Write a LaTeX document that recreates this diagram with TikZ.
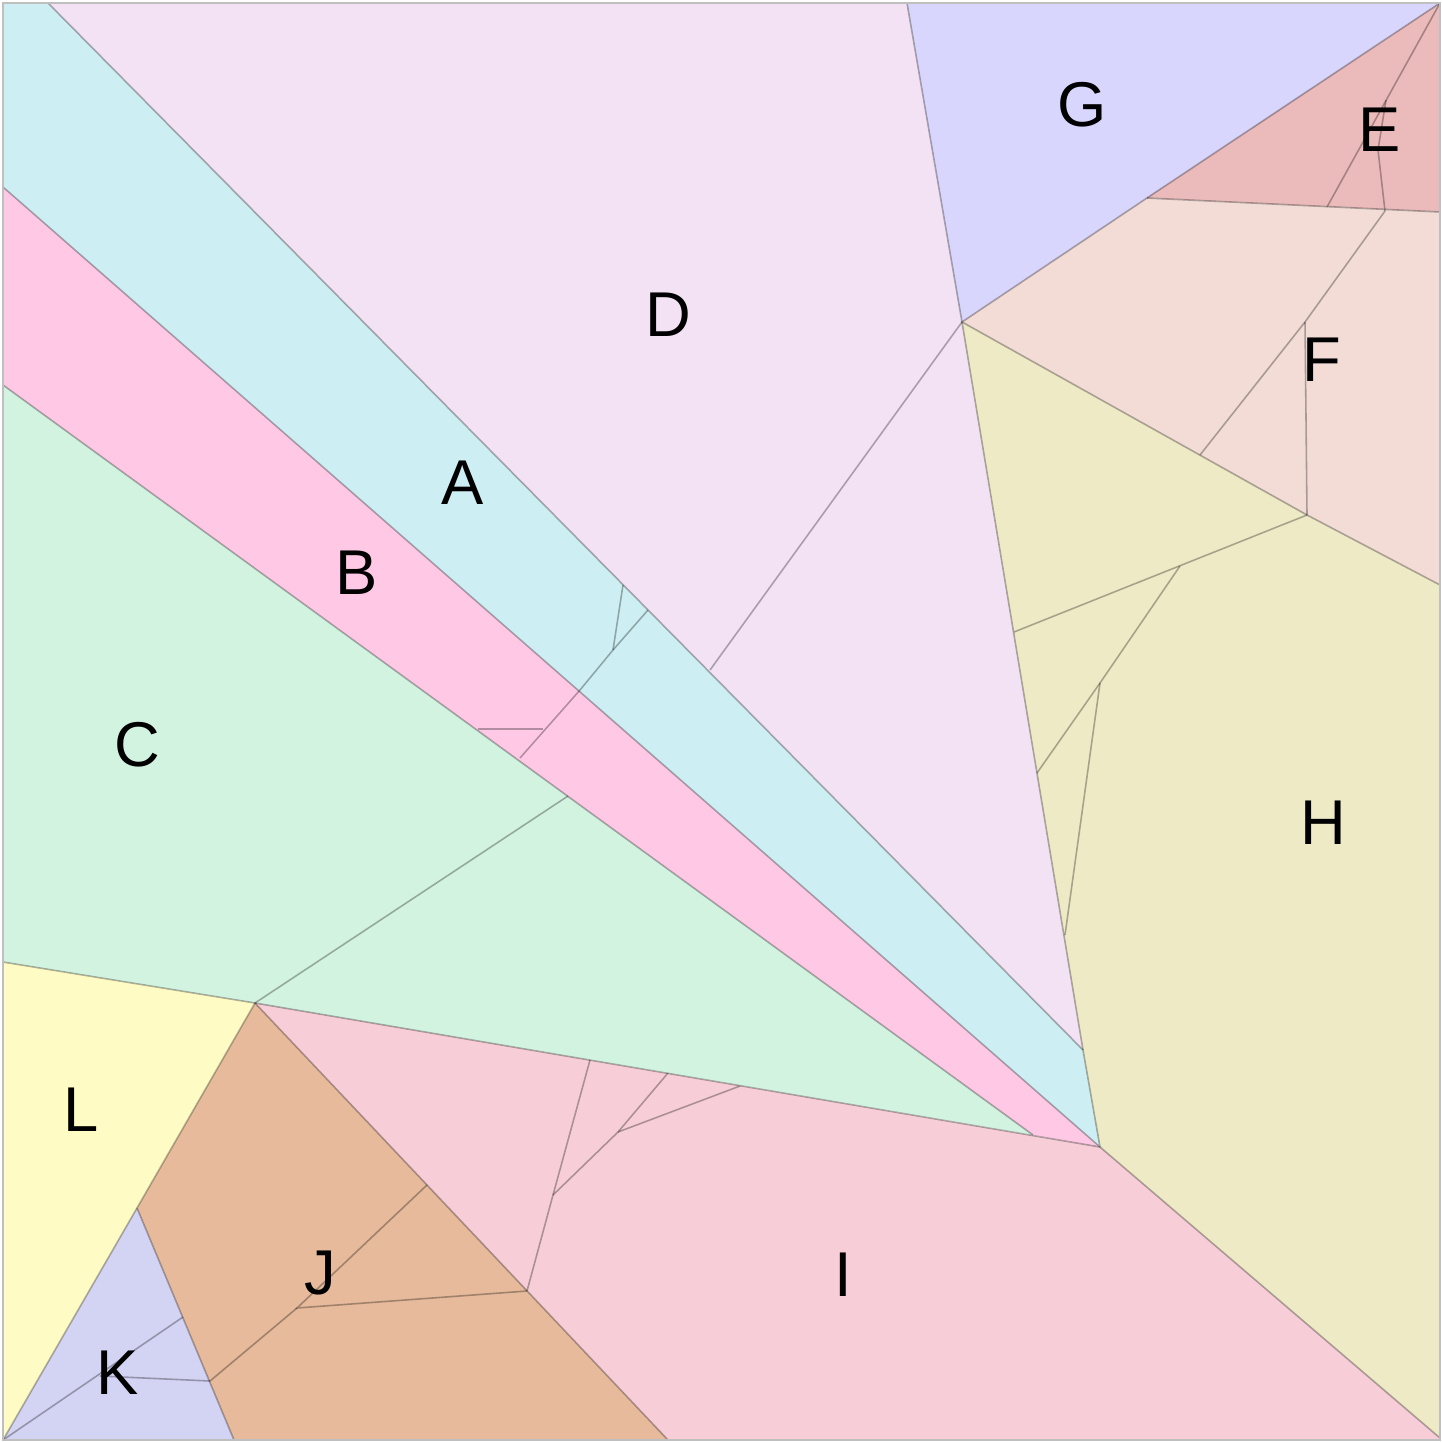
\documentclass[tikz,border=0pt]{standalone}
\usepackage{fontspec}
\setmainfont{Liberation Sans}
\definecolor{cA}{HTML}{CDEFF3}
\definecolor{cB}{HTML}{FFC9E6}
\definecolor{cC}{HTML}{D3F3E1}
\definecolor{cD}{HTML}{F2E2F3}
\definecolor{cE}{HTML}{EBBBBB}
\definecolor{cF}{HTML}{F2DCD5}
\definecolor{cG}{HTML}{D9D6FD}
\definecolor{cH}{HTML}{EEEAC6}
\definecolor{cI}{HTML}{F7CED8}
\definecolor{cJ}{HTML}{E6BA9B}
\definecolor{cK}{HTML}{D3D3F4}
\definecolor{cL}{HTML}{FFFBC5}
\begin{document}
\begin{tikzpicture}[x=0.01cm,y=-0.01cm,
  cell/.style={draw=black,draw opacity=0.3,line width=0.45pt,line join=round},
  seam/.style={draw=black,draw opacity=0.3,line width=0.45pt},
  lbl/.style={font=\fontsize{18}{20}\selectfont,inner sep=0pt}]
  \useasboundingbox (0,0) rectangle (1442,1442);
  % corners of the cells
  \coordinate (tl) at (3,3);   \coordinate (tr) at (1440,3);
  \coordinate (br) at (1440,1438); \coordinate (bl) at (3,1440);
  \coordinate (P) at (1100,1147);
  \coordinate (ad) at (48,3);    \coordinate (ab) at (3,187);
  \coordinate (bc) at (3,385);   \coordinate (ctip) at (1033,1135);
  \coordinate (cl) at (3,962);   \coordinate (jt) at (255,1003);
  \coordinate (dg) at (907,3);   \coordinate (hub) at (962,322);
  \coordinate (dh) at (1083,1050);
  \coordinate (ef) at (1147,198); \coordinate (er) at (1440,212);
  \coordinate (fh) at (1307,515); \coordinate (fr) at (1440,585);
  \coordinate (jb) at (668,1440); \coordinate (kt) at (137,1208);
  \coordinate (kb) at (234,1440);
  % the cells
  \fill[cA] (ad) -- (dh) -- (P) -- (ab) -- (tl) -- cycle;
  \fill[cB] (ab) -- (P) -- (ctip) -- (bc) -- cycle;
  \fill[cC] (bc) -- (ctip) -- (jt) -- (cl) -- cycle;
  \fill[cD] (ad) -- (dg) -- (hub) -- (dh) -- cycle;
  \fill[cG] (dg) -- (tr) -- (hub) -- cycle;
  \fill[cE] (ef) -- (tr) -- (er) -- cycle;
  \fill[cF] (hub) -- (ef) -- (er) -- (fr) -- (fh) -- cycle;
  \fill[cH] (hub) -- (fh) -- (fr) -- (br) -- (P) -- (dh) -- cycle;
  \fill[cI] (jt) -- (P) -- (br) -- (1440,1440) -- (jb) -- cycle;
  \fill[cJ] (jt) -- (jb) -- (kb) -- (kt) -- cycle;
  \fill[cK] (kt) -- (kb) -- (bl) -- cycle;
  \fill[cL] (cl) -- (jt) -- (kt) -- (bl) -- cycle;
  % borders between cells
  \draw[cell] (ad) -- (dh) -- (P) -- (ab);
  \draw[cell] (bc) -- (ctip);
  \draw[cell] (cl) -- (jt) -- (P) -- (br);
  \draw[cell] (dg) -- (hub) -- (dh);
  \draw[cell] (tr) -- (ef) -- (hub) -- (fh) -- (fr);
  \draw[cell] (ef) -- (er);
  \draw[cell] (jt) -- (jb);
  \draw[cell] (jt) -- (kt) -- (kb);
  \draw[cell] (kt) -- (bl);
  % seams inside the cells
  \draw[seam] (623,585) -- (613,650);
  \draw[seam] (648,610) -- (613,650) -- (580,690) -- (520,758);
  \draw[seam] (478,729) -- (543,729);
  \draw[seam] (jt) -- (568,796);
  \draw[seam] (hub) -- (710,670);
  \draw[seam] (tr) -- (1327,207);
  \draw[seam] (1386,100) -- (1378,150) -- (1385,211);
  \draw[seam] (1385,211) -- (1305,322) -- (1200,455);
  \draw[seam] (1305,322) -- (fh);
  \draw[seam] (fh) -- (1014,632);
  \draw[seam] (1180,566) -- (1100,683) -- (1037,773);
  \draw[seam] (1100,683) -- (1065,935);
  \draw[seam] (527,1291) -- (553,1195) -- (590,1060);
  \draw[seam] (553,1195) -- (618,1132) -- (668,1073);
  \draw[seam] (618,1132) -- (740,1086);
  \draw[seam] (427,1185) -- (297,1308) -- (527,1291);
  \draw[seam] (297,1308) -- (210,1381);
  \draw[seam] (bl) -- (183,1317);
  \draw[seam] (100,1376) -- (210,1381);
  % frame
  \draw[black!25,line width=0.6pt] (tl) rectangle (1440,1440);
  % labels
  \node[lbl] (labA) at (463,483) {A};
  \node[lbl] (labB) at (357,573) {B};
  \node[lbl] (labC) at (137,745) {C};
  \node[lbl] (labD) at (668,315) {D};
  \node[lbl] (labE) at (1380,130) {E};
  \node[lbl] (labF) at (1322,360) {F};
  \node[lbl] (labG) at (1082,105) {G};
  \node[lbl] (labH) at (1323,823) {H};
  \node[lbl] (labI) at (843,1275) {I};
  \node[lbl] (labJ) at (320,1273) {J};
  \node[lbl] (labK) at (118,1373) {K};
  \node[lbl] (labL) at (81,1110) {L};
\end{tikzpicture}
\end{document}
